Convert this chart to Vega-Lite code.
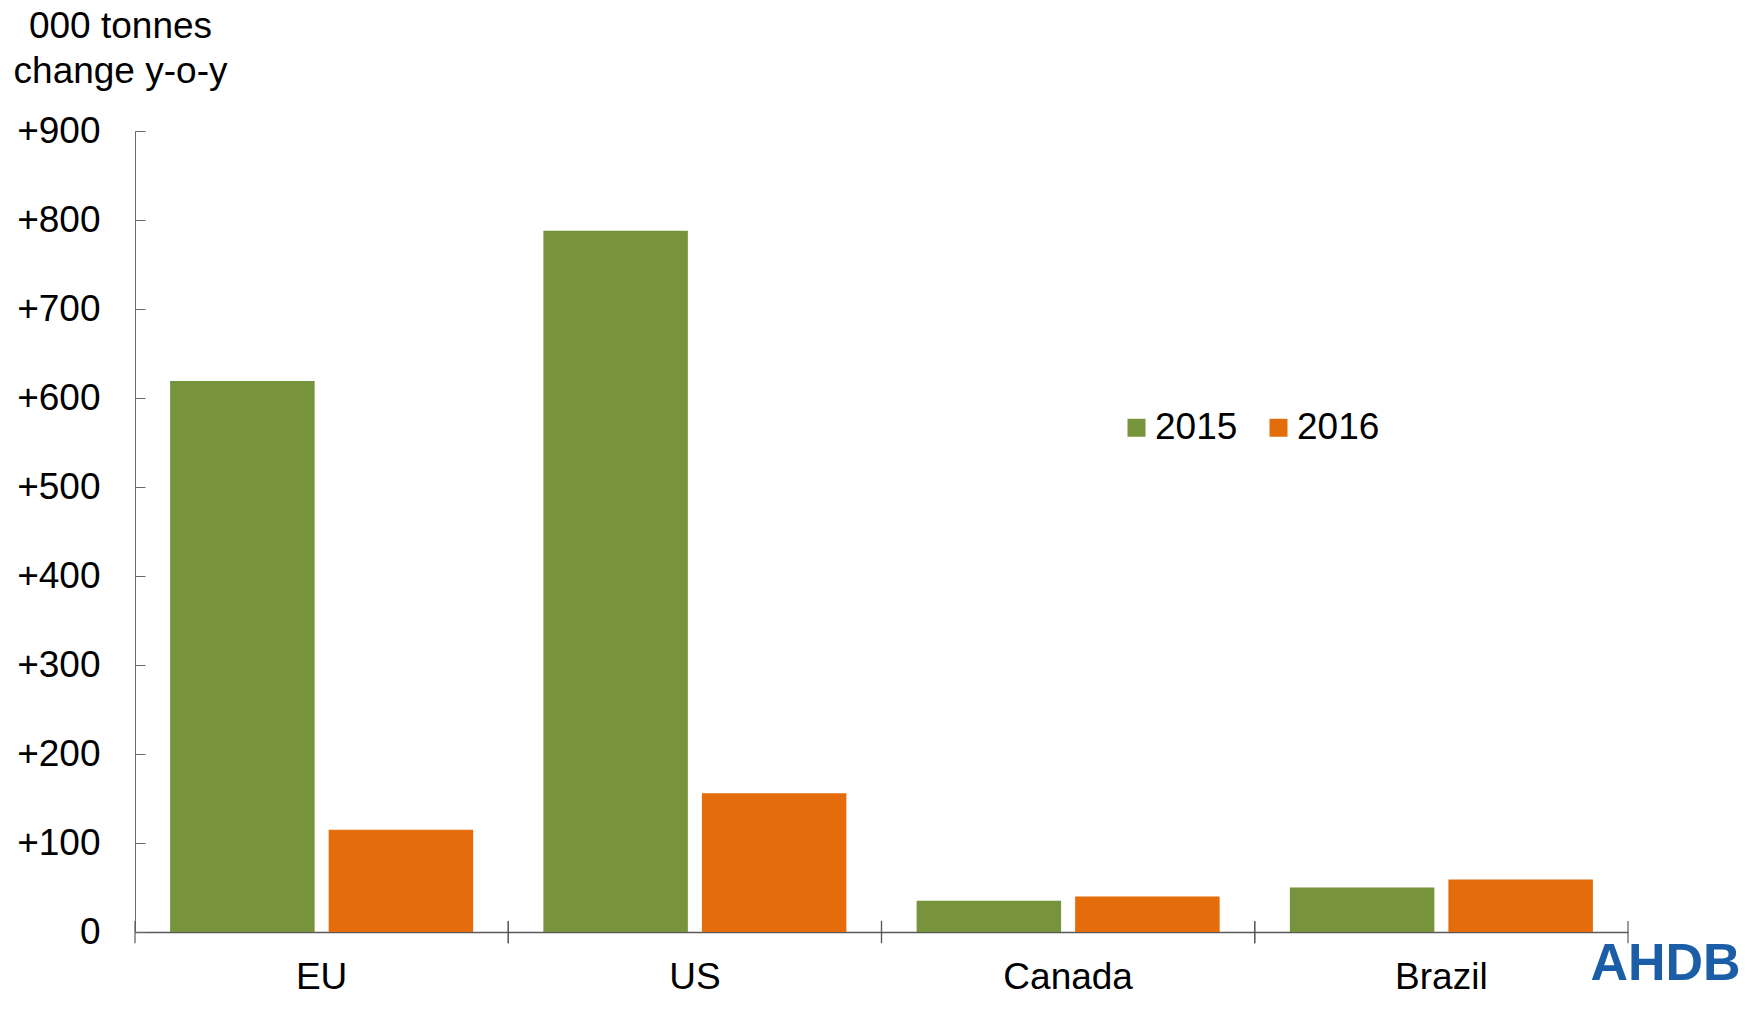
{
  "$schema": "https://vega.github.io/schema/vega-lite/v6.json",
  "width": 1493,
  "height": 801,
  "autosize": {"type": "none"},
  "padding": {"left": 135, "top": 131, "right": 117, "bottom": 80},
  "background": "white",
  "config": {"view": {"stroke": null}, "font": "Liberation Sans"},
  "title": {
    "text": "AHDB",
    "orient": "bottom",
    "anchor": "end",
    "color": "#1b5ea7",
    "fontSize": 52,
    "fontWeight": "bold",
    "font": "Liberation Sans",
    "offset": 0,
    "dx": 112,
    "dy": -56
  },
  "datasets": {
    "bars": [
      {"region": "EU", "year": "2015", "value": 619},
      {"region": "EU", "year": "2016", "value": 115},
      {"region": "US", "year": "2015", "value": 788},
      {"region": "US", "year": "2016", "value": 156},
      {"region": "Canada", "year": "2015", "value": 35},
      {"region": "Canada", "year": "2016", "value": 40},
      {"region": "Brazil", "year": "2015", "value": 50},
      {"region": "Brazil", "year": "2016", "value": 59}
    ],
    "regions": [
      {"region": "EU"},
      {"region": "US"},
      {"region": "Canada"},
      {"region": "Brazil"}
    ]
  },
  "layer": [
    {
      "data": {"name": "bars"},
      "mark": {"type": "bar"},
      "encoding": {
        "x": {
          "field": "region",
          "type": "nominal",
          "sort": ["EU", "US", "Canada", "Brazil"],
          "scale": {"paddingInner": 0, "paddingOuter": 0},
          "axis": {
            "title": null,
            "ticks": false,
            "labelAngle": 0,
            "labelFontSize": 37,
            "labelPadding": 27,
            "labelColor": "black",
            "domainColor": "#595959",
            "domainWidth": 1.5
          }
        },
        "xOffset": {
          "field": "year",
          "type": "nominal",
          "scale": {"paddingInner": 0.0886, "paddingOuter": 0.2215}
        },
        "y": {
          "field": "value",
          "type": "quantitative",
          "scale": {"domain": [0, 900], "nice": false},
          "axis": {
            "values": [0, 100, 200, 300, 400, 500, 600, 700, 800, 900],
            "labelExpr": "datum.value > 0 ? '+' + datum.value : '0'",
            "grid": false,
            "tickSize": -10,
            "labelPadding": 45,
            "labelFontSize": 37,
            "labelColor": "black",
            "domainColor": "#6b6b6b",
            "tickColor": "#6b6b6b",
            "title": ["000 tonnes", "change y-o-y"],
            "titleAngle": 0,
            "titleAlign": "center",
            "titleBaseline": "alphabetic",
            "titleX": -15,
            "titleY": -94,
            "titleFontSize": 37,
            "titleFontWeight": "normal",
            "titleLineHeight": 45,
            "titleColor": "black"
          }
        },
        "color": {
          "field": "year",
          "type": "nominal",
          "scale": {"domain": ["2015", "2016"], "range": ["#77933C", "#E46C0A"]},
          "legend": {
            "title": null,
            "orient": "none",
            "legendX": 983,
            "legendY": 278,
            "direction": "horizontal",
            "symbolType": "square",
            "symbolSize": 324,
            "symbolStrokeWidth": 0,
            "symbolOpacity": 1,
            "labelFontSize": 37,
            "labelOffset": 0,
            "columnPadding": 22,
            "labelColor": "black"
          }
        }
      }
    },
    {
      "data": {"name": "regions"},
      "mark": {"type": "rule", "color": "#595959", "strokeWidth": 1.2},
      "encoding": {
        "x": {"field": "region", "type": "nominal", "sort": ["EU", "US", "Canada", "Brazil"], "bandPosition": 0},
        "y": {"datum": -12.5},
        "y2": {"datum": 12.5}
      }
    },
    {
      "data": {"name": "regions"},
      "mark": {"type": "rule", "color": "#595959", "strokeWidth": 1.2},
      "encoding": {
        "x": {"field": "region", "type": "nominal", "sort": ["EU", "US", "Canada", "Brazil"], "bandPosition": 1},
        "y": {"datum": -12.5},
        "y2": {"datum": 12.5}
      }
    }
  ]
}
